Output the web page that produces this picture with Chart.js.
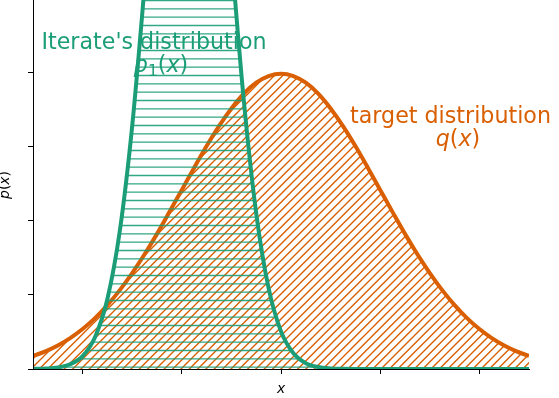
<!DOCTYPE html>
<html>
<head>
<meta charset="utf-8">
<script src="https://cdn.jsdelivr.net/npm/chart.js@4.4.1/dist/chart.umd.min.js"></script>
<style>
  html, body { margin: 0; padding: 0; background: #fff; }
  #wrap { width: 559px; height: 398px; position: relative; }
</style>
</head>
<body>
<div id="wrap"><canvas id="densityChart"></canvas></div>
<script>
// x grid, step 0.25
const xs = [-5, -4.75, -4.5, -4.25, -4, -3.75, -3.5, -3.25, -3, -2.75, -2.5, -2.25, -2, -1.75, -1.5, -1.25, -1, -0.75, -0.5, -0.25,
            0, 0.25, 0.5, 0.75, 1, 1.25, 1.5, 1.75, 2, 2.25, 2.5, 2.75, 3, 3.25, 3.5, 3.75, 4, 4.25, 4.5, 4.75, 5];
// target distribution q(x)
const targetQ = [0.0088, 0.0119, 0.0159, 0.0209, 0.0270, 0.0344, 0.0432, 0.0533, 0.0648, 0.0775, 0.0913, 0.1060, 0.1210, 0.1360, 0.1506, 0.1641, 0.1760, 0.1860, 0.1934, 0.1979,
                 0.1995, 0.1979, 0.1934, 0.1860, 0.1760, 0.1641, 0.1506, 0.1360, 0.1210, 0.1060, 0.0913, 0.0775, 0.0648, 0.0533, 0.0432, 0.0344, 0.0270, 0.0209, 0.0159, 0.0119, 0.0088];
// iterate's distribution p1(x), runs off the top of the axes
const iterateP = [0.0001, 0.0003, 0.0010, 0.0032, 0.0087, 0.0215, 0.0473, 0.0932, 0.1642, 0.2590, 0.3654, 0.4614, 0.5215, 0.5273, 0.4771, 0.3863, 0.2799, 0.1815, 0.1053, 0.0546,
                  0.0254, 0.0106, 0.0039, 0.0013, 0.0004, 0.0001, 0, 0, 0, 0, 0, 0, 0, 0, 0, 0, 0, 0, 0, 0, 0];
const xTicks = [-4, -2, 0, 2, 4];
const yTicks = [0, 0.05, 0.1, 0.15, 0.2];

const ORANGE = '#d95f02';
const GREEN = '#1b9e77';

// hatch tiles: 25px tile holds 3 lines -> 8.33px spacing
function hatch(kind, color) {
    const c = document.createElement('canvas');
    c.width = 25; c.height = 25;
    const g = c.getContext('2d');
    g.strokeStyle = color;
    g.lineWidth = 1.4;
    g.beginPath();
    for (let k = -4; k <= 6; k++) {
        const c0 = k * 25 / 3;
        if (kind === 'diag') {
            g.moveTo(c0 - 5, 30);
            g.lineTo(c0 + 30, -5);
        } else {
            g.moveTo(-1, c0 + 0.5);
            g.lineTo(26, c0 + 0.5);
        }
    }
    g.stroke();
    return g.createPattern(c, 'repeat');
}

// draws a small mathtext-like run: [text, italic, subscript]
function drawMath(ctx, parts, cx, y, size, color) {
    const runs = parts.map(([t, it, sub]) => {
        const px = sub ? size * 0.7 : size;
        const font = (it ? 'italic ' : '') + px + 'px "DejaVu Sans"';
        ctx.font = font;
        return { t, font, w: ctx.measureText(t).width, sub };
    });
    let x = cx - runs.reduce((s, r) => s + r.w, 0) / 2;
    ctx.fillStyle = color;
    ctx.textAlign = 'left';
    ctx.textBaseline = 'alphabetic';
    runs.forEach(r => {
        ctx.font = r.font;
        ctx.fillText(r.t, x, r.sub ? y + size * 0.2 : y);
        x += r.w;
    });
}

const labelsPlugin = {
    id: 'curveLabels',
    beforeDatasetsDraw(chart) {
        const ctx = chart.ctx;
        const fs = 22.2;
        ctx.save();
        ctx.textAlign = 'center';
        ctx.textBaseline = 'alphabetic';
        ctx.font = fs + 'px "DejaVu Sans"';
        ctx.fillStyle = GREEN;
        ctx.fillText("Iterate's distribution", 154, 49);
        drawMath(ctx, [['p', true], ['1', false, true], ['(', false], ['x', true], [')', false]], 161, 72, fs, GREEN);
        ctx.textAlign = 'center';
        ctx.font = fs + 'px "DejaVu Sans"';
        ctx.fillStyle = ORANGE;
        ctx.fillText('target distribution', 450.5, 123);
        drawMath(ctx, [['q', true], ['(', false], ['x', true], [')', false]], 458, 146, fs, ORANGE);

        // y axis label, rotated; sits a little above the visible middle
        ctx.translate(9, 185);
        ctx.rotate(-Math.PI / 2);
        drawMath(ctx, [['p', true], ['(', false], ['x', true], [')', false]], 0, 0, 13.9, '#000');
        ctx.restore();
    }
};

const toPoints = vals => vals.map((v, i) => ({ x: xs[i], y: v }));

new Chart(document.getElementById('densityChart'), {
    type: 'line',
    data: {
        datasets: [{
            label: 'p1(x)',
            data: toPoints(iterateP),
            borderColor: GREEN,
            borderWidth: 4,
            backgroundColor: hatch('horiz', 'rgba(27,158,119,0.9)'),
            fill: 'origin',
            pointRadius: 0,
            cubicInterpolationMode: 'monotone',
            clip: 0
        }, {
            label: 'q(x)',
            data: toPoints(targetQ),
            borderColor: ORANGE,
            borderWidth: 4,
            backgroundColor: hatch('diag', ORANGE),
            fill: 'origin',
            pointRadius: 0,
            cubicInterpolationMode: 'monotone',
            clip: 0
        }]
    },
    options: {
        responsive: true,
        maintainAspectRatio: false,
        animation: false,
        layout: { padding: { top: 0, right: 30, left: 0, bottom: 0 } },
        plugins: {
            legend: { display: false },
            tooltip: { enabled: false }
        },
        scales: {
            x: {
                type: 'linear',
                min: -5,
                max: 5,
                afterBuildTicks: s => { s.ticks = xTicks.map(v => ({ value: v })); },
                afterFit: s => { s.height = 29; },
                ticks: { display: false },
                grid: { display: true, drawOnChartArea: false, drawTicks: true, tickLength: 5, color: '#000', lineWidth: 1 },
                border: { display: true, color: '#000', width: 1, z: 1 },
                title: { display: true, text: 'x', color: '#000', font: { family: 'DejaVu Sans', size: 13.9, style: 'italic' }, padding: { top: -3, bottom: 0 } }
            },
            y: {
                min: 0,
                max: 0.2493,
                afterBuildTicks: s => { s.ticks = yTicks.map(v => ({ value: v })); },
                afterFit: s => { s.width = 33; },
                ticks: { display: false },
                grid: { display: true, drawOnChartArea: false, drawTicks: true, tickLength: 5, color: '#000', lineWidth: 1 },
                border: { display: true, color: '#000', width: 1, z: 1 },
                title: { display: false }
            }
        }
    },
    plugins: [labelsPlugin]
});
</script>
</body>
</html>
